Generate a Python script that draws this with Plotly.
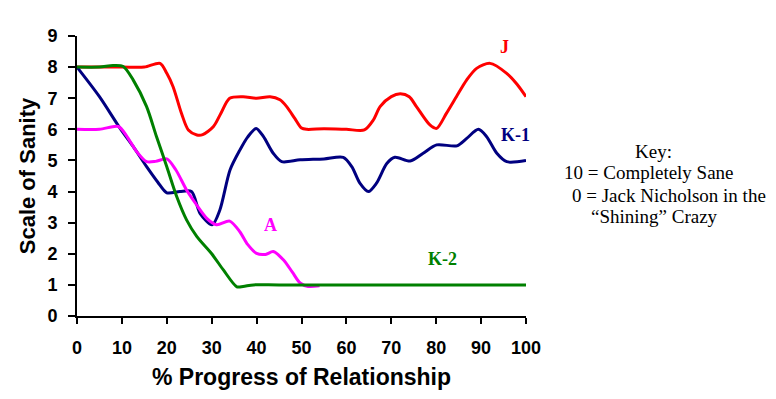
import plotly.graph_objects as go

# Series J (red)
j_x = [0, 10, 15, 18.5, 20, 21.4, 23.3, 24.8, 26.7, 28, 30.4, 32, 34, 37, 40, 43, 45.2, 46.7, 48.5, 50,
       51.2, 55, 60, 64, 66, 67.5, 70, 72, 74, 75.6, 78.6, 80.1, 82.3, 84.5, 86.8, 89, 92, 95.7, 98, 100]
j_y = [8, 8, 8, 8.12, 7.8, 7.37, 6.5, 5.98, 5.82, 5.83, 6.09, 6.5, 7.0, 7.05, 7.0, 7.05, 6.95, 6.73, 6.35, 6.04,
       6.0, 6.02, 6.0, 5.98, 6.3, 6.73, 7.05, 7.14, 7.05, 6.73, 6.14, 6.03, 6.52, 7.05, 7.59, 7.96, 8.12, 7.8, 7.45, 7.05]

# Series K-1 (navy)
k1_x = [0, 5, 9.6, 12.5, 15.5, 18, 20, 22.9, 25.5, 27.4, 30.1, 31.8, 34.1, 36.3, 38, 39.9, 41.5, 43.7, 45.6,
        49.7, 55, 59.3, 61.2, 63, 64.9, 66.7, 69, 70.8, 74.2, 77.1, 80.1, 84.6, 86.8, 89.4, 91.2, 93.5, 95.7, 100]
k1_y = [8, 7.05, 6.03, 5.45, 4.8, 4.3, 3.96, 4.0, 4.0, 3.3, 2.93, 3.4, 4.7, 5.34, 5.75, 6.03, 5.77, 5.23, 4.96,
        5.02, 5.05, 5.1, 4.8, 4.27, 4.0, 4.27, 4.9, 5.1, 4.98, 5.23, 5.5, 5.47, 5.71, 6.0, 5.77, 5.23, 4.96, 5.0]

# Series A (magenta)
a_x = [0, 5, 9.2, 11, 13.3, 15.5, 17.5, 20, 22, 24.4, 26.5, 28.9, 31.1, 34, 36.3, 38, 40, 42, 43.7, 46, 48,
       49.7, 51.5, 54]
a_y = [6, 6, 6.09, 5.8, 5.28, 4.96, 4.97, 5.05, 4.7, 4.05, 3.6, 3.14, 2.93, 3.05, 2.7, 2.3, 2.01, 1.98, 2.07,
       1.8, 1.4, 1.06, 0.95, 0.97]

# Series K-2 (green)
k2_x = [0, 5, 8, 10.3, 12.5, 15.5, 17.7, 20, 22.2, 24.4, 26.7, 30, 32.6, 35.6, 37, 39.3, 45, 100]
k2_y = [8, 8, 8.05, 8.02, 7.59, 6.73, 5.77, 4.8, 3.84, 3.09, 2.55, 2.0, 1.48, 0.94, 0.95, 1.0, 1.0, 1.0]

x_ticks = [0, 10, 20, 30, 40, 50, 60, 70, 80, 90, 100]
y_ticks = [0, 1, 2, 3, 4, 5, 6, 7, 8, 9]

series = [
    ("J", j_x, j_y, "#FF0000", 95.3, 8.65),
    ("K-1", k1_x, k1_y, "#000080", 97.6, 5.82),
    ("A", a_x, a_y, "#FF00FF", 43.0, 2.93),
    ("K-2", k2_x, k2_y, "#008000", 81.3, 1.83),
]

fig = go.Figure()
for name, xs, ys, color, lx, ly in series:
    fig.add_trace(go.Scatter(x=xs, y=ys, mode="lines", name=name,
                             line=dict(color=color, width=3, shape="spline", smoothing=0.8),
                             cliponaxis=False, showlegend=False))
    fig.add_annotation(x=lx, y=ly, xref="x", yref="y", text="<b>%s</b>" % name, showarrow=False,
                       font=dict(family="Liberation Serif", size=18, color=color))

key_font = dict(family="Liberation Serif", size=19, color="black")
fig.add_annotation(x=1.283, y=0.586, xref="paper", yref="paper", text="Key:", showarrow=False,
                   xanchor="center", yanchor="middle", font=key_font)
fig.add_annotation(x=1.080, y=0.511, xref="paper", yref="paper", text="10 = Completely Sane", showarrow=False,
                   xanchor="left", yanchor="middle", font=key_font)
fig.add_annotation(x=1.098, y=0.432, xref="paper", yref="paper", text="0 = Jack Nicholson in the",
                   showarrow=False, xanchor="left", yanchor="middle", font=key_font)
fig.add_annotation(x=1.140, y=0.354, xref="paper", yref="paper", text="\u201cShining\u201d Crazy",
                   showarrow=False, xanchor="left", yanchor="middle", font=key_font)

fig.update_xaxes(range=[0, 100], tickvals=x_ticks, ticktext=[str(v) for v in x_ticks],
                 showgrid=False, zeroline=False, showline=True, linecolor="black", linewidth=2,
                 ticks="outside", ticklen=6, tickwidth=1.5, tickcolor="black", automargin=False,
                 tickfont=dict(family="Liberation Sans", size=18, color="black", weight="bold"),
                 ticklabelstandoff=8,
                 title=dict(text="<b>% Progress of Relationship</b>", standoff=12,
                            font=dict(family="Liberation Sans", size=23, color="black")))
fig.update_yaxes(range=[0, 9], tickvals=y_ticks, ticktext=[str(v) for v in y_ticks],
                 showgrid=False, zeroline=False, showline=True, linecolor="black", linewidth=2,
                 ticks="outside", ticklen=7, tickwidth=1.5, tickcolor="black", automargin=False,
                 tickfont=dict(family="Liberation Sans", size=18, color="black", weight="bold"),
                 ticklabelstandoff=7,
                 title=dict(text="<b>Scale of Sanity</b>", standoff=6,
                            font=dict(family="Liberation Sans", size=22, color="black")))

fig.update_layout(width=776, height=399, margin=dict(l=69, r=258, t=28, b=91),
                  plot_bgcolor="white", paper_bgcolor="white")

fig.write_html("out.html")
